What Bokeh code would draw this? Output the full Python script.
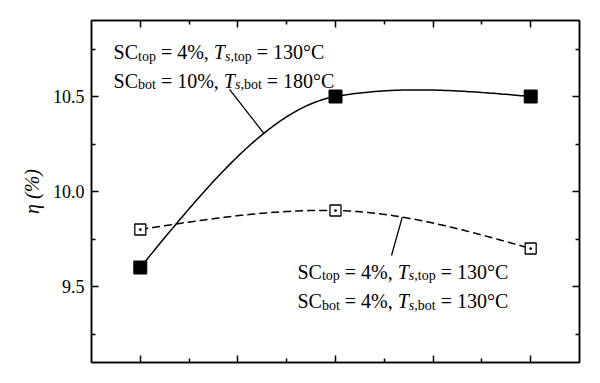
import numpy as np
from bokeh.plotting import figure
from bokeh.models import Label, LinearAxis, FixedTicker, PrintfTickFormatter
from bokeh.embed import file_html
from bokeh.resources import INLINE

# ---------------- data ----------------
x_pos = [1, 2, 3]
eta_solid = [9.6, 10.5, 10.5]      # SC_bot = 10 %, Ts,bot = 180 C
eta_dashed = [9.8, 9.9, 9.7]       # SC_bot = 4 %,  Ts,bot = 130 C
y_ticks = [9.5, 10.0, 10.5]
y_minor = [9.25, 9.75, 10.25, 10.75]
x_ticks = [1.0, 1.5, 2.0, 2.5, 3.0]
x_minor = [1.25, 1.75, 2.25, 2.75]
solid_cond = [("top", "4", "130"), ("bot", "10", "180")]
dashed_cond = [("top", "4", "130"), ("bot", "4", "130")]
y_label = "η (%)"

FONT = "Liberation Serif"


def smooth(xs, ys, tension=0.6, n=80):
    xs = np.asarray(xs, float)
    ys = np.asarray(ys, float)
    d = np.diff(ys) / np.diff(xs)
    m = np.zeros_like(ys)
    m[1:-1] = (1 - tension) * (ys[2:] - ys[:-2]) / (xs[2:] - xs[:-2])
    m[0] = (3 * d[0] - m[1]) / 2
    m[-1] = (3 * d[-1] - m[-2]) / 2
    cx, cy = [], []
    t = np.linspace(0, 1, n)
    for k in range(len(xs) - 1):
        h = xs[k + 1] - xs[k]
        h00 = 2 * t**3 - 3 * t**2 + 1
        h10 = t**3 - 2 * t**2 + t
        h01 = -2 * t**3 + 3 * t**2
        h11 = t**3 - t**2
        yy = h00 * ys[k] + h10 * h * m[k] + h01 * ys[k + 1] + h11 * h * m[k + 1]
        xx = xs[k] + t * h
        if k > 0:
            xx, yy = xx[1:], yy[1:]
        cx.extend(xx)
        cy.extend(yy)
    return np.array(cx), np.array(cy)


p = figure(width=592, height=375, x_range=(0.75, 3.25), y_range=(9.1, 10.9),
           output_backend="svg", toolbar_location=None,
           min_border_left=91, min_border_right=13, min_border_top=20, min_border_bottom=13)
p.grid.visible = False
p.outline_line_color = "black"
p.outline_line_width = 1.5
p.background_fill_color = "white"
p.border_fill_color = "white"

xt = FixedTicker(ticks=x_ticks, minor_ticks=x_minor)
yt = FixedTicker(ticks=y_ticks, minor_ticks=y_minor)


def style_axis(ax, labels):
    ax.major_tick_in = 7
    ax.major_tick_out = 0
    ax.minor_tick_in = 4
    ax.minor_tick_out = 0
    ax.major_tick_line_width = 1.5
    ax.minor_tick_line_width = 1.5
    ax.axis_line_width = 1.5
    ax.major_tick_line_color = "black"
    ax.minor_tick_line_color = "black"
    ax.axis_line_color = "black"
    if labels:
        ax.major_label_text_font = FONT
        ax.major_label_text_font_size = "18px"
        ax.major_label_text_color = "black"
        ax.major_label_standoff = 7
    else:
        ax.major_label_text_font_size = "0px"
        ax.major_label_text_color = None
        ax.major_label_standoff = 0


p.xaxis.ticker = xt
p.yaxis.ticker = yt
p.yaxis.formatter = PrintfTickFormatter(format="%.1f")
style_axis(p.xaxis[0], False)
style_axis(p.yaxis[0], True)
p.yaxis.axis_label = y_label
p.yaxis.axis_label_text_font = FONT
p.yaxis.axis_label_text_font_size = "20px"
p.yaxis.axis_label_text_font_style = "italic"
p.yaxis.axis_label_text_color = "black"
p.yaxis.axis_label_standoff = 7

right = LinearAxis(ticker=yt)
style_axis(right, False)
p.add_layout(right, "right")
top = LinearAxis(ticker=xt)
style_axis(top, False)
p.add_layout(top, "above")

# curves
sx, sy = smooth(x_pos, eta_solid)
dx, dy = smooth(x_pos, eta_dashed)
p.line(sx, sy, line_color="black", line_width=1.5)
p.line(dx, dy, line_color="black", line_width=1.5, line_dash="8 4")
p.scatter(x_pos, eta_solid, marker="square", size=13, fill_color="black", line_color="black")
p.scatter(x_pos, eta_dashed, marker="square_dot", size=11, fill_color="white",
          line_color="black", line_width=1.3)

# leader lines (annotation positions)
s_lead = (1.457, 10.537, 1.633)
d_lead = (2.287, 9.663, 2.342)
p.line([s_lead[0], s_lead[2]], [s_lead[1], float(np.interp(s_lead[2], sx, sy))],
       line_color="black", line_width=1.3)
p.line([d_lead[0], d_lead[2]], [d_lead[1], float(np.interp(d_lead[2], dx, dy))],
       line_color="black", line_width=1.3)

# text metrics (Times / Liberation Serif, per 1000 em)
ROMAN = {' ': 250, 'S': 556, 'C': 667, 't': 278, 'o': 500, 'p': 500, 'b': 500,
         '=': 564, '%': 833, ',': 250, '°': 400, 'T': 611, 's': 389, '.': 250,
         '(': 333, ')': 333}
ITAL = {'T': 556, 's': 389, ' ': 250}


def tw(s, italic):
    tab = ITAL if italic else ROMAN
    return sum(tab.get(ch, ROMAN.get(ch, 500)) for ch in s) / 1000.0


def rich_line(x, y, pieces, size=20):
    off = 0.0
    for text, style in pieces:
        italic = "i" in style
        sub = "sub" in style
        fs = size * 0.7 if sub else size
        stripped = text.strip()
        lead = len(text) - len(text.lstrip())
        trail = len(text) - len(text.rstrip())
        off += lead * 250 * fs / 1000
        p.add_layout(Label(x=x, y=y, x_offset=off, y_offset=-4 if sub else 0,
                           text=stripped, text_font=FONT, text_font_size=f"{fs:.1f}px",
                           text_font_style="italic" if italic else "normal",
                           text_color="black",
                           text_baseline="alphabetic", text_align="left"))
        off += tw(stripped, italic) * fs + trail * 250 * fs / 1000


def cond_pieces(sub, sc, ts):
    return [("SC", "n"), (sub, "sub"), (f" = {sc}%, ", "n"), ("T", "i"),
            ("s", "isub"), (f",{sub}", "sub"), (f" = {ts}°C", "n")]


# annotation block positions (x, y of first baseline, y of second baseline)
s_anno = (0.863, 10.733, 10.584)
d_anno = (1.805, 9.578, 9.423)
rich_line(s_anno[0], s_anno[1], cond_pieces(*solid_cond[0]))
rich_line(s_anno[0], s_anno[2], cond_pieces(*solid_cond[1]))
rich_line(d_anno[0], d_anno[1], cond_pieces(*dashed_cond[0]))
rich_line(d_anno[0], d_anno[2], cond_pieces(*dashed_cond[1]))

open("out.html", "w").write(file_html(p, INLINE))
